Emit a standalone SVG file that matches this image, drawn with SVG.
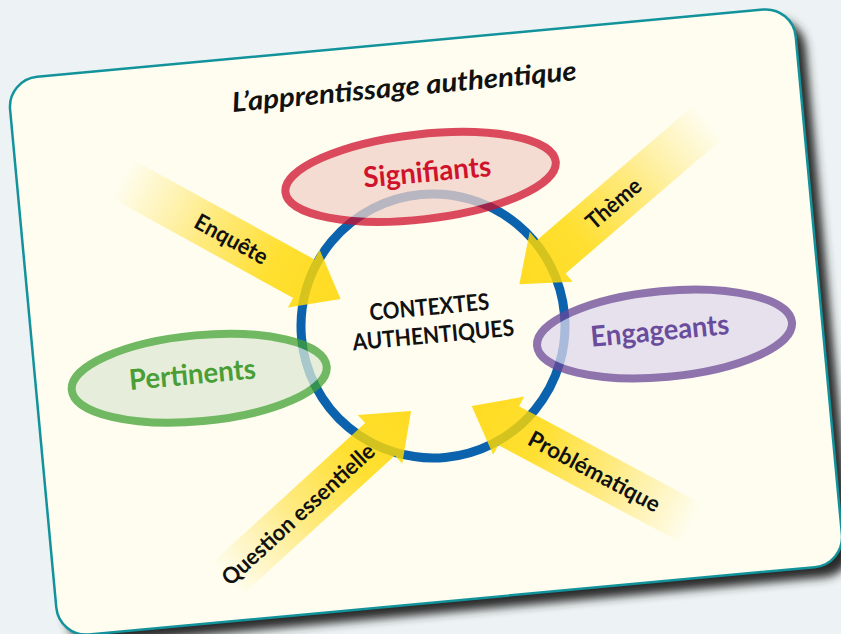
<svg xmlns="http://www.w3.org/2000/svg" width="841" height="634" viewBox="0 0 841 634">
<defs>
<style>
.t{font-family:Lato,"Open Sans","Liberation Sans",sans-serif;font-weight:700;text-anchor:middle}
.arrow{fill:url(#ygrad)}
.alab{font-size:22.5px;fill:#111}
.ell{stroke-width:8}
</style>
<linearGradient id="ygrad" x1="0" y1="0" x2="1" y2="0">
<stop offset="0" stop-color="#ffe14a" stop-opacity="0"/>
<stop offset="0.12" stop-color="#ffe14a" stop-opacity="0.2"/>
<stop offset="0.4" stop-color="#ffdd30" stop-opacity="0.6"/>
<stop offset="0.7" stop-color="#ffd800" stop-opacity="0.8"/>
<stop offset="1" stop-color="#ffd600" stop-opacity="0.86"/>
</linearGradient>
<filter id="blur" x="-10%" y="-10%" width="120%" height="120%"><feGaussianBlur stdDeviation="5"/></filter>
<path id="arr" d="M0,-22H208V-33L250,0L208,33V22H0Z"/>
</defs>
<rect width="841" height="634" fill="#edf3f4"/>
<g id="card">
<rect x="40.5" y="53" width="789" height="560" rx="30" fill="#2a2c2c" filter="url(#blur)" transform="rotate(-5.3 426 322)"/>
<rect x="31.5" y="42" width="789" height="560" rx="30" fill="#fefdf0" stroke="#12939b" stroke-width="2.5" transform="rotate(-5.3 426 322)"/>
</g>
<g id="title" transform="rotate(-5.3 426 322)">
<text class="t" x="426" y="95" font-size="27" font-style="italic" fill="#111" textLength="346" lengthAdjust="spacingAndGlyphs">L’apprentissage authentique</text>
</g>
<g id="contextes" transform="rotate(-5.3 426 322)">
<circle cx="432.6" cy="326.6" r="132" fill="none" stroke="#0b63ae" stroke-width="9"/>
<text class="t" x="430.6" y="315.4" font-size="23" fill="#111" textLength="120" lengthAdjust="spacingAndGlyphs">CONTEXTES</text>
<text class="t" x="432" y="343.6" font-size="23" fill="#111" textLength="162" lengthAdjust="spacingAndGlyphs">AUTHENTIQUES</text>
</g>
<g id="connectors">
<g id="arrow-enquete">
<use href="#arr" class="arrow" transform="translate(121.5 178.5) rotate(28.8)"/>
<text class="t alab" transform="translate(231.5 239) rotate(28.8)" y="8" textLength="80" lengthAdjust="spacingAndGlyphs">Enquête</text>
</g>
<g id="arrow-theme">
<use href="#arr" class="arrow" transform="translate(708.9 121.2) rotate(139.3)"/>
<text class="t alab" transform="translate(613.4 203.4) rotate(-40.7)" y="8" textLength="65" lengthAdjust="spacingAndGlyphs">Thème</text>
</g>
<g id="arrow-question">
<use href="#arr" class="arrow" transform="translate(226.4 579.6) rotate(-42.4)"/>
<text class="t alab" transform="translate(298 514.2) rotate(-42.4)" y="8" textLength="198" lengthAdjust="spacingAndGlyphs">Question essentielle</text>
</g>
<g id="arrow-problematique">
<use href="#arr" class="arrow" transform="translate(692.2 523.7) rotate(208.1)"/>
<text class="t alab" transform="translate(594.3 471.4) rotate(28.1)" y="8" textLength="146" lengthAdjust="spacingAndGlyphs">Problématique</text>
</g>
</g>
<g id="signifiants" transform="rotate(-5.3 426 322)">
<g opacity="0.75"><ellipse class="ell" cx="434" cy="177" rx="136" ry="42.5" transform="rotate(-1.2 434 177)" fill="#f2d2c8" stroke="#ce0e2b"/></g>
<text class="t" x="441" y="182.5" font-size="28.5" fill="#d0132c" textLength="128" lengthAdjust="spacingAndGlyphs">Signifiants</text>
</g>
<g id="engageants" transform="rotate(-5.3 426 322)">
<g opacity="0.75"><ellipse class="ell" cx="662.4" cy="356" rx="128" ry="43" fill="#ded8eb" stroke="#6a4697"/></g>
<text class="t" x="658" y="362" font-size="28.5" fill="#6a4c9c" textLength="139" lengthAdjust="spacingAndGlyphs">Engageants</text>
</g>
<g id="pertinents" transform="rotate(-5.3 426 322)">
<g opacity="0.75"><ellipse class="ell" cx="195" cy="357" rx="128" ry="43" fill="#deead5" stroke="#43a133"/></g>
<text class="t" x="188.5" y="362.4" font-size="28.5" fill="#4a9e35" textLength="127" lengthAdjust="spacingAndGlyphs">Pertinents</text>
</g>
</svg>
